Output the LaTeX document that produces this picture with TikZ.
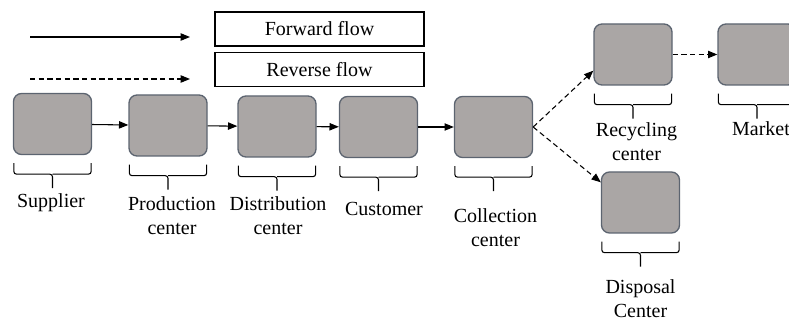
\documentclass[tikz,border=0pt]{standalone}
\usepackage{fontspec}
\setmainfont{Liberation Serif}
\usetikzlibrary{arrows.meta,calc}
\definecolor{boxgray}{RGB}{170,166,165}
\definecolor{boxedge}{RGB}{92,100,112}
\tikzset{
  stage/.style={draw=boxedge, fill=boxgray, line width=1pt, rounded corners=6pt, minimum width=58.5pt, minimum height=45.75pt, inner sep=0pt},
  legendbox/.style={draw, minimum width=156.75pt, minimum height=25.5pt, inner sep=0pt},
  flow/.style={-{Triangle[length=7pt,width=5.5pt]}},
  rflow/.style={flow, dash pattern=on 4pt off 2.5pt},
  lbl/.style={align=center, font=\fontsize{15}{18}\selectfont},
}
\begin{document}
\begin{tikzpicture}[x=0.75pt, y=-0.75pt, line width=0.8pt]
        \useasboundingbox (0,0) rectangle (789,320);
        \clip (0,0) rectangle (789,320);

        % legend
        \coordinate (fs) at (30,37);
        \coordinate (fe) at (190,37);
        \coordinate (rs) at (30,79);
        \coordinate (re) at (190,79);
        \draw[flow] (fs) -- (fe);
        \draw[rflow] (rs) -- (re);
        \node[legendbox, lbl] (fwd) at (319.5,29) {Forward flow};
        \node[legendbox, lbl] (rev) at (319.5,69.5) {Reverse flow};

        % stages
        \node[stage] (sup) at (52.5,124) {};
        \node[stage] (prod) at (168,125.5) {};
        \node[stage] (dist) at (277,126.5) {};
        \node[stage] (cust) at (378.5,127) {};
        \node[stage] (coll) at (493.5,127) {};
        \node[stage] (rec) at (633,54.5) {};
        \node[stage] (mkt) at (757,54.5) {};
        \node[stage] (disp) at (640.5,202.5) {};

        % braces and labels
        \foreach \n in {sup,prod,dist,cust,coll,rec,mkt,disp}
            \draw[rounded corners=2pt] ($(\n.south west)+(1,8)$) -- ++(0,11) -- ($(\n.south)+(0,19)$) -- ++(0,14)
                ($(\n.south)+(0,19)$) -- ($(\n.south east)+(-1,19)$) -- ++(0,-11);
        \foreach \n/\dx/\dy/\t in {sup/-1.5/48/Supplier, prod/4/59/{Production\\center}, dist/1/58/{Distribution\\center},
                cust/5.5/51/Customer, coll/2/69.5/{Collection\\center}, rec/3.5/55.5/{Recycling\\center},
                mkt/4/43/Market, disp/0/64.5/{Disposal\\Center}}
            \node[lbl] (\n-lbl) at ($(\n.south)+(\dx,\dy)$) {\t};

        % flows
        \draw[flow] (sup) -- (prod);
        \draw[flow] (prod) -- (dist);
        \draw[flow] (dist) -- (cust);
        \draw[flow] (cust) -- (coll);
        \draw[rflow] (coll.east) -- ($(rec.south west)+(0,-15)$);
        \draw[rflow] (coll.east) -- ($(disp.north west)+(0,11)$);
        \draw[rflow] (rec) -- (mkt);
    \end{tikzpicture}
\end{document}
